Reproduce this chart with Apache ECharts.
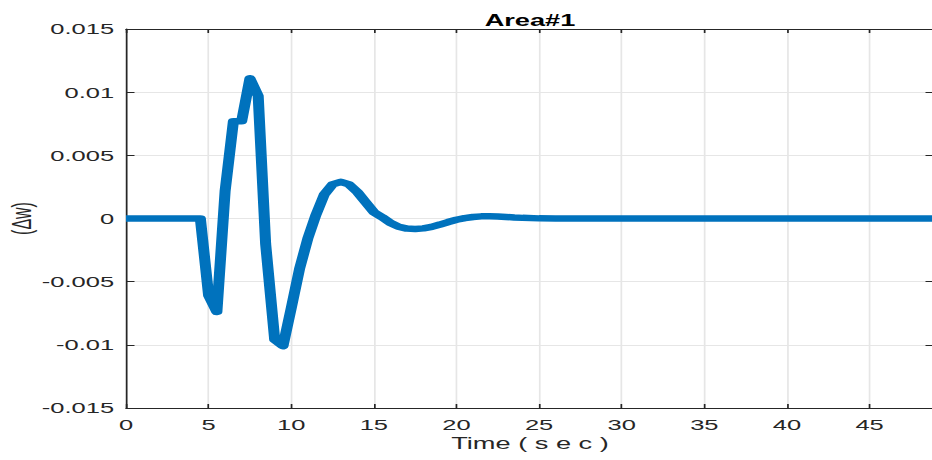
<!DOCTYPE html>
<html>
<head>
<meta charset="utf-8">
<script src="https://cdn.jsdelivr.net/npm/echarts@6/dist/echarts.min.js"></script>
<style>
  html, body { margin: 0; padding: 0; background: #fff; overflow: hidden; width: 932px; height: 460px; }
  #chart { position: absolute; left: 0; top: 0; height: 460px; transform-origin: 0 0; }
</style>
</head>
<body>
<div id="chart"></div>
<script>
// Frequency deviation of Area #1 after the disturbance
const timeSec = [0, 4.5, 5.0, 5.5, 6.0, 6.5, 7.0, 7.5, 8.0, 8.45, 9.0, 9.5, 10.0, 10.5, 11.0, 11.5,
  12.0, 12.5, 13.0, 13.5, 14.0, 14.5, 15.0, 15.5, 16.0, 16.5, 17.0, 17.5, 18.0, 18.5, 19.0, 19.5,
  20.0, 20.5, 21.0, 21.5, 22.0, 22.5, 23.0, 23.5, 24.0, 25.0, 26.0, 28.0, 30.0, 35.0, 40.0, 45.0, 48.9];
const deltaW = [0, 0, -0.0061, -0.0074, 0.0022, 0.0077, 0.0077, 0.0111, 0.0097, -0.0020, -0.0096, -0.0101,
  -0.0071, -0.0040, -0.0016, 0.0003, 0.0019, 0.0027, 0.0029, 0.0027, 0.0021, 0.0013, 0.0005, 0.0001,
  -0.00035, -0.00065, -0.0008, -0.00083, -0.00078, -0.00066, -0.00048, -0.00028, -0.0001, 0.00003,
  0.00012, 0.00017, 0.00018, 0.00016, 0.00012, 0.00008, 0.00005, 0.00001, 0, 0, 0, 0, 0, 0, 0];
const xTicks = [0, 5, 10, 15, 20, 25, 30, 35, 40, 45];
const yTicks = ['-0.015', '-0.01', '-0.005', '0', '0.005', '0.01', '0.015'];

// The figure is drawn on a narrow canvas and widened horizontally
const SX = 1.7;
const W = 560;
const plotLeft = 126 / SX;
const plotRight = 934 / SX;

const el = document.getElementById('chart');
el.style.width = W + 'px';
el.style.transform = 'scaleX(' + SX + ')';

const FONT = '"Liberation Sans", Arial, sans-serif';
const INK = '#262626';
const GRID = '#e6e6e6';

const xLabel = v => (xTicks.indexOf(Math.round(v * 1000) / 1000) >= 0 ? String(Math.round(v)) : '');
const yLabel = v => {
  const s = String(+v.toFixed(3));
  return yTicks.indexOf(s) >= 0 ? s : '';
};

const chart = echarts.init(el, null, { renderer: 'svg', width: W, height: 460 });
const common = {
  type: 'value',
  axisLine: { show: true, onZero: false, lineStyle: { color: INK, width: 1 } },
  axisTick: { show: true, inside: true, length: 5, lineStyle: { color: INK, width: 1 } }
};
chart.setOption({
  animation: false,
  backgroundColor: '#fff',
  title: {
    text: 'Area#1',
    left: (plotLeft + plotRight) / 2 - 5,
    textAlign: 'center',
    top: 8,
    textStyle: { fontFamily: FONT, fontWeight: 'bold', fontSize: 16, color: '#000' }
  },
  grid: {
    left: plotLeft, right: W - plotRight, top: 29, bottom: 52,
    containLabel: false, outerBoundsMode: 'none'
  },
  xAxis: [
    Object.assign({}, common, {
      position: 'bottom', min: 0, max: 48.9, interval: 5,
      name: 'Time ( s e c )', nameLocation: 'middle', nameGap: 28, nameMoveOverlap: false,
      nameTextStyle: { fontFamily: FONT, fontSize: 16, color: INK },
      axisTick: { show: true, inside: true, length: 4, lineStyle: { color: INK } },
      axisLabel: { fontFamily: FONT, fontSize: 15, color: INK, margin: 9, formatter: xLabel, showMaxLabel: false },
      splitLine: { show: true, lineStyle: { color: GRID, width: 1 } }
    }),
    Object.assign({}, common, {
      position: 'top', min: 0, max: 48.9, interval: 5,
      axisTick: { show: true, inside: true, length: 4, lineStyle: { color: INK } },
      axisLabel: { show: false }, splitLine: { show: false }
    })
  ],
  yAxis: [
    Object.assign({}, common, {
      position: 'left', min: -0.015, max: 0.015, interval: 0.005,
      name: '(\u0394w)', nameLocation: 'middle', nameGap: 53, nameRotate: 90, nameMoveOverlap: false,
      nameTextStyle: { fontFamily: FONT, fontSize: 16, color: INK },
      axisLabel: { fontFamily: FONT, fontSize: 15, color: INK, margin: 7, formatter: yLabel },
      splitLine: { show: true, lineStyle: { color: GRID, width: 1 } }
    }),
    Object.assign({}, common, {
      position: 'right', min: -0.015, max: 0.015, interval: 0.005,
      axisLabel: { show: false }, splitLine: { show: false }
    })
  ],
  series: [{
    type: 'line',
    data: timeSec.map((t, i) => [t, deltaW[i]]),
    showSymbol: false,
    lineStyle: { color: '#0072BD', width: 6.5, join: 'round', cap: 'butt' },
    itemStyle: { color: '#0072BD' }
  }]
});
</script>
</body>
</html>
